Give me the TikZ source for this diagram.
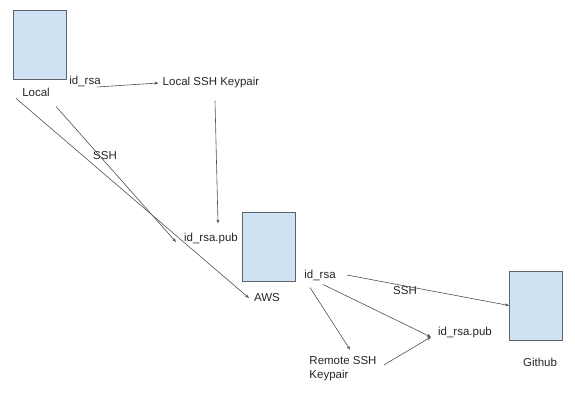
\documentclass[tikz,border=0pt]{standalone}
\usepackage{fontspec}
\setmainfont{Liberation Sans}
\usetikzlibrary{arrows.meta}
\definecolor{boxfill}{HTML}{CFE2F3}
\definecolor{boxline}{HTML}{5F6368}
\definecolor{wire}{HTML}{505050}
\begin{document}
\begin{tikzpicture}[x=1pt, y=-1pt, font=\fontsize{11.5}{14}\selectfont,
    machine/.style={draw=boxline, line width=0.8pt, fill=boxfill, minimum width=53pt, minimum height=69pt, inner sep=0pt},
    lbl/.style={inner sep=0pt, text=black!85},
    link/.style={draw=wire, line width=0.6pt, ->, >={Stealth[length=4pt,width=3pt]}}]
            \useasboundingbox (0,0) rectangle (575,401);
            % machines
            \node[machine] (local)  at (39.5,44.5) {};
            \node[machine] (aws)    at (268.5,246.5) {};
            \node[machine] (github) at (536,305.5) {};
            % labels
            \node[lbl] (localtxt)  at (36,92)  {Local};
            \node[lbl] (idrsaA)    at (85,81)  {id\_rsa};
            \node[lbl] (localkp)   at (211,83) {Local SSH Keypair};
            \node[lbl] (sshA)      at (105,156) {SSH};
            \node[lbl] (pubA)      at (211,239) {id\_rsa.pub};
            \node[lbl] (awstxt)    at (267,298) {AWS};
            \node[lbl] (idrsaB)    at (320,275) {id\_rsa};
            \node[lbl] (sshB)      at (405,291) {SSH};
            \node[lbl, align=left] (remotekp) at (343,369) {Remote SSH\\Keypair};
            \node[lbl] (pubB)      at (465,333) {id\_rsa.pub};
            \node[lbl] (githubtxt) at (540,362) {Github};
            % connections
            \draw[link] ([shift={(-4,6)}]idrsaA.east) -- ([xshift=-4pt]localkp.west);
            \draw[link] ([shift={(4,12)}]localkp.south) -- ([shift={(7,-10)}]pubA.north);
            \draw[link] ([shift={(-6,2)}]localtxt.south west) -- ([xshift=-5pt]awstxt.west);
            \draw[link] ([shift={(6,10)}]localtxt.south east) -- ([shift={(-8,3)}]pubA.west);
            \draw[link] ([xshift=11pt]idrsaB.east) -- (github.west);
            \draw[link] ([shift={(-10,7)}]idrsaB.south) -- ([shift={(7,-7)}]remotekp.north);
            \draw[link] ([shift={(3,4)}]idrsaB.south) -- ([shift={(-7,4)}]pubB.west);
            \draw[link] ([shift={(7,-4)}]remotekp.east) -- ([shift={(-7,4)}]pubB.west);
        \end{tikzpicture}
\end{document}
